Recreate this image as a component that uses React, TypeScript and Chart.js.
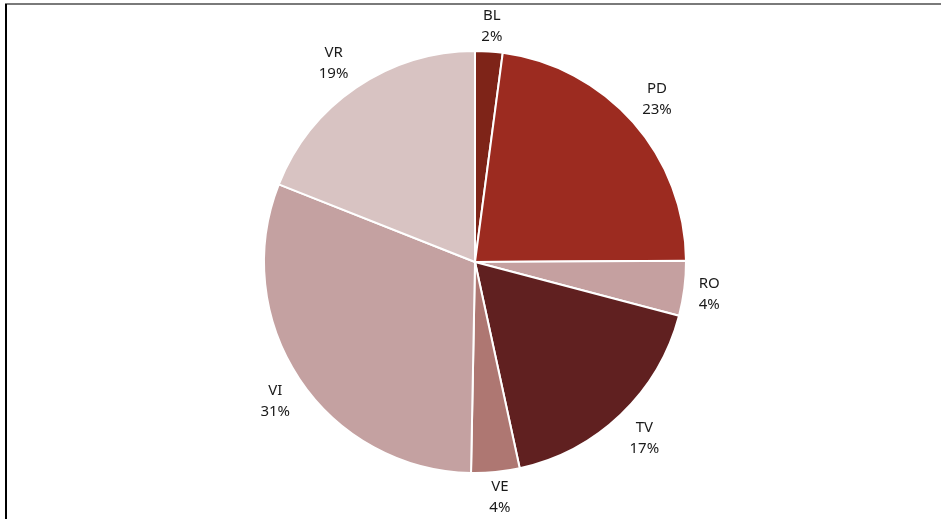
import React, { useEffect, useRef } from "react";
import { Chart, registerables } from "chart.js";

Chart.register(...registerables);

const categories = ["BL", "PD", "RO", "TV", "VE", "VI", "VR"];
const values = [2.1, 22.8, 4.2, 17.5, 3.7, 30.7, 19.0];
const percentLabels = ["2%", "23%", "4%", "17%", "4%", "31%", "19%"];
const colors = ["#7E2418", "#9C2B20", "#C5A0A0", "#602020", "#AE7772", "#C4A1A1", "#D8C3C2"];

const clamp = (v: number) => Math.max(-1, Math.min(1, v));

const outsideLabels = {
  id: "outsideLabels",
  afterDatasetsDraw(chart: any) {
    const ctx = chart.ctx;
    const meta = chart.getDatasetMeta(0);
    ctx.save();
    ctx.font = '15px "Noto Sans", sans-serif';
    ctx.fillStyle = "#1A1A1A";
    ctx.textAlign = "center";
    ctx.textBaseline = "middle";
    meta.data.forEach((arc: any, i: number) => {
      const { x, y, startAngle, endAngle, outerRadius } = arc.getProps(
        ["x", "y", "startAngle", "endAngle", "outerRadius"],
        true
      );
      const mid = (startAngle + endAngle) / 2;
      const ux = Math.cos(mid);
      const uy = Math.sin(mid);
      const d = outerRadius + 5;
      const cx = x + ux * d + clamp(ux * 2) * 20;
      const cy = y + uy * d + clamp(uy * 2) * 20;
      ctx.fillText(categories[i], cx, cy - 10.5);
      ctx.fillText(percentLabels[i], cx, cy + 10.5);
    });
    ctx.restore();
  },
};

export default function App() {
  const ref = useRef<HTMLCanvasElement | null>(null);
  useEffect(() => {
    if (!ref.current) return;
    const chart = new Chart(ref.current, {
      type: "pie",
      data: {
        labels: categories,
        datasets: [
          {
            data: values,
            backgroundColor: colors,
            borderColor: "#FFFFFF",
            borderWidth: 2,
          },
        ],
      },
      options: {
        responsive: false,
        animation: false,
        layout: { padding: { top: 50, bottom: 45, left: 263, right: 254 } },
        plugins: {
          legend: { display: false },
          tooltip: { enabled: false },
        },
      },
      plugins: [outsideLabels],
    });
    return () => chart.destroy();
  }, []);
  return (
    <div
      style={{
        position: "fixed",
        left: 0,
        top: 0,
        width: 941,
        height: 519,
        background: "#FFFFFF",
        overflow: "hidden",
      }}
    >
      <canvas ref={ref} width={941} height={519} style={{ position: "absolute", left: 0, top: 0 }} />
      <div style={{ position: "absolute", left: 5, top: 3, width: 936, height: 2, background: "#7A7A7A" }} />
      <div style={{ position: "absolute", left: 5, top: 4, width: 2, height: 515, background: "#000000" }} />
    </div>
  );
}
